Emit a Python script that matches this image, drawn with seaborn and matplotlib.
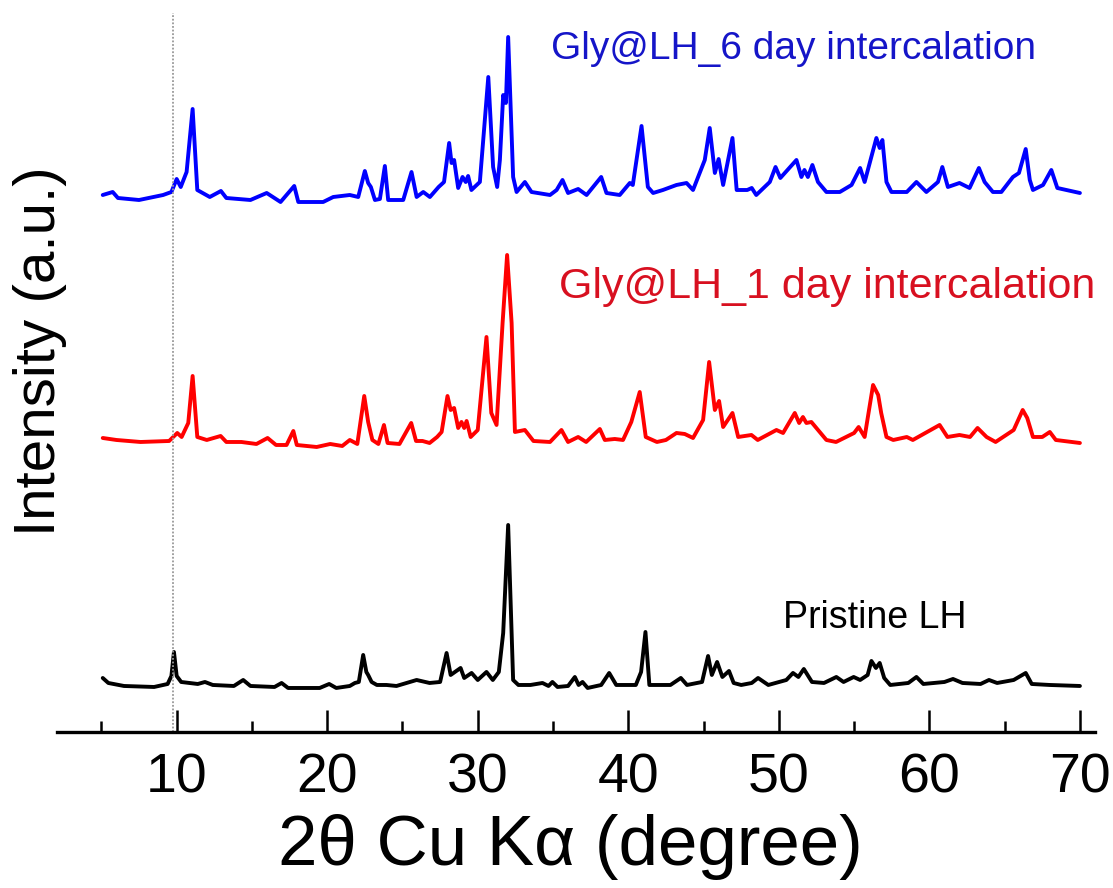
import numpy as np
import pandas as pd
import seaborn as sns
from matplotlib import pyplot as plt
from matplotlib.ticker import MultipleLocator

# 2-theta positions (degree) and stacked intensities (a.u.)
pristine_x = [5.09, 5.46, 6.5, 8.5, 9.4, 9.65, 9.82, 10.0, 10.3, 11.4, 11.88, 12.4,
              13.8, 14.42, 14.9, 16.5, 16.97, 17.4, 19.5, 20.13, 20.6, 21.5, 21.84,
              22.1, 22.39, 22.6, 22.72, 22.95, 23.3, 23.94, 24.6, 25.94, 26.8, 27.5,
              27.93, 28.2, 28.86, 29.1, 29.59, 30.0, 30.58, 31.0, 31.4, 31.69, 32.02,
              32.35, 32.7, 33.5, 34.3, 34.7, 34.96, 35.3, 36.0, 36.45, 36.7, 36.96,
              37.3, 38.2, 38.73, 39.2, 40.5, 40.85, 41.14, 41.4, 42.8, 43.49, 43.9,
              44.9, 45.3, 45.55, 45.9, 46.25, 46.69, 47.0, 47.5, 48.2, 48.62, 49.3,
              50.5, 50.94, 51.3, 51.66, 52.2, 53.0, 53.82, 54.3, 54.97, 55.4, 55.9,
              56.15, 56.45, 56.7, 57.0, 57.4, 58.6, 59.14, 59.6, 61.0, 61.57, 62.2,
              63.4, 63.96, 64.5, 65.6, 66.4, 66.8, 68.0, 70.0]
pristine_y = [54, 49, 46, 45, 48, 56, 80, 56, 50, 48, 50, 47,
              46, 52, 46, 45, 49, 44, 44, 48, 44, 46, 49,
              50, 77, 60, 57, 50, 47, 47, 46, 52, 49, 50,
              79, 57, 64, 54, 59, 52, 60, 52, 60, 99, 207,
              52, 47, 47, 49, 46, 50, 45, 46, 55, 47, 50,
              44, 47, 59, 47, 47, 60, 100, 47, 47, 54, 47,
              50, 76, 57, 70, 55, 61, 49, 47, 49, 54, 47,
              52, 59, 55, 63, 50, 49, 55, 50, 55, 52, 57,
              71, 64, 69, 54, 47, 49, 55, 48, 50, 53, 49,
              48, 52, 49, 52, 59, 48, 47, 46]

day1_x = [5.09, 6.0, 7.6, 9.5, 10.04, 10.33, 10.77, 11.06, 11.37, 12.0, 12.92, 13.3,
          14.3, 15.3, 16.04, 16.6, 17.3, 17.75, 17.98, 19.3, 20.2, 21.0, 21.5, 22.0,
          22.46, 22.72, 23.0, 23.4, 23.77, 24.01, 24.8, 25.58, 25.9, 26.33, 26.8,
          27.3, 27.6, 27.99, 28.2, 28.43, 28.7, 28.92, 29.1, 29.26, 29.53, 30.0,
          30.58, 30.9, 31.25, 31.65, 31.95, 32.25, 32.47, 33.13, 33.7, 34.8, 35.56,
          36.0, 36.67, 37.2, 38.11, 38.44, 39.1, 39.65, 40.2, 40.76, 41.16, 41.9,
          42.5, 43.2, 43.75, 44.3, 44.97, 45.37, 45.75, 46.03, 46.3, 46.92, 47.3,
          48.18, 48.6, 49.84, 50.28, 51.06, 51.35, 51.6, 51.83, 52.16, 53.16, 53.8,
          55.0, 55.3, 55.7, 56.26, 56.6, 56.8, 57.15, 57.6, 58.5, 58.9, 60.68,
          61.2, 62.0, 62.7, 63.2, 63.8, 64.4, 65.6, 66.2, 66.5, 66.88, 67.5, 68.0,
          68.4, 70.0]
day1_y = [294, 292, 290, 291, 299, 295, 309, 356, 295, 292, 296, 290,
          290, 288, 294, 287, 287, 301, 287, 285, 288, 286, 292, 288,
          336, 310, 292, 288, 307, 289, 288, 309, 291, 291, 289,
          295, 300, 336, 322, 324, 304, 310, 304, 311, 295, 302,
          395, 319, 307, 409, 477, 409, 300, 302, 291, 290, 302,
          290, 295, 290, 303, 292, 293, 292, 310, 340, 295, 290,
          292, 299, 298, 294, 312, 370, 322, 331, 305, 319, 295,
          297, 292, 302, 299, 319, 309, 315, 309, 310, 292, 290,
          299, 305, 295, 347, 337, 319, 295, 292, 295, 292, 307,
          295, 297, 295, 304, 295, 290, 302, 322, 314, 295, 295, 300,
          292, 289]

day6_x = [5.09, 5.75, 6.1, 7.5, 9.1, 9.65, 10.0, 10.27, 10.66, 11.06, 11.37, 12.2,
          12.94, 13.3, 14.9, 15.98, 16.9, 17.81, 18.08, 19.73, 20.4, 21.5, 22.06,
          22.5, 22.72, 22.9, 23.17, 23.5, 23.83, 24.05, 25.05, 25.6, 25.94, 26.38,
          26.82, 27.4, 27.76, 28.1, 28.26, 28.43, 28.7, 28.99, 29.2, 29.36, 29.58,
          30.14, 30.7, 31.02, 31.29, 31.47, 31.69, 31.87, 32.02, 32.35, 32.58,
          33.13, 33.57, 34.8, 35.24, 35.63, 36.0, 36.67, 37.23, 38.2, 38.55, 39.43,
          40.1, 40.3, 40.88, 41.3, 41.65, 42.3, 43.2, 43.87, 44.3, 45.08, 45.41,
          45.75, 46.0, 46.3, 46.92, 47.2, 47.9, 48.2, 48.5, 49.4, 49.78, 50.1,
          51.17, 51.5, 51.7, 51.93, 52.23, 52.6, 53.16, 54.05, 54.83, 55.4, 55.7,
          56.48, 56.7, 56.88, 57.15, 57.48, 58.5, 59.14, 59.8, 60.57, 60.86, 61.23,
          62.0, 62.67, 63.29, 63.67, 64.22, 64.78, 65.55, 65.95, 66.4, 66.67,
          66.88, 67.55, 68.1, 68.5, 70.0]
day6_y = [537, 540, 534, 532, 537, 540, 553, 545, 560, 623, 542, 535,
          541, 534, 532, 539, 530, 546, 530, 530, 535, 537, 535,
          561, 549, 545, 532, 533, 566, 532, 532, 560, 535, 540,
          535, 545, 550, 589, 569, 572, 544, 555, 550, 556, 542,
          550, 655, 565, 545, 572, 637, 629, 695, 555, 540,
          550, 540, 537, 542, 552, 539, 543, 537, 555, 539, 537,
          549, 547, 606, 545, 539, 542, 547, 549, 542, 572, 604,
          559, 573, 547, 594, 542, 542, 544, 537, 550, 565, 554,
          572, 555, 562, 555, 567, 550, 540, 540, 547, 564, 550,
          594, 584, 592, 550, 540, 540, 550, 540, 550, 565, 545,
          549, 544, 564, 550, 540, 540, 555, 559, 583, 552,
          542, 547, 562, 544, 539]

labels = ["Pristine LH", "Gly@LH_1 day intercalation", "Gly@LH_6 day intercalation"]
ref_line = 9.77

sns.set_style("white")
plt.rcParams['font.family'] = ['Liberation Sans', 'DejaVu Sans']
plt.rcParams['text.color'] = 'black'
plt.rcParams['axes.labelcolor'] = 'black'
plt.rcParams['xtick.color'] = 'black'

fig = plt.figure(figsize=(11.13, 8.88), dpi=100)
ax = fig.add_axes([0.0512, 0.1757, 0.9326, 0.8243])

for xs, ys, c in [(pristine_x, pristine_y, 'black'),
                  (day1_x, day1_y, '#ff0000'),
                  (day6_x, day6_y, '#0000ff')]:
    sns.lineplot(x=xs, y=ys, ax=ax, color=c, lw=2.8, estimator=None, sort=False)

ax.plot([ref_line, ref_line], [0, 719], color='#999999', lw=1.3, ls=(0, (1, 1)))

ax.set_xlim(2.05, 71.0)
ax.set_ylim(0, 732)
for s in ['left', 'right', 'top']:
    ax.spines[s].set_visible(False)
ax.spines['bottom'].set_linewidth(2.4)
ax.spines['bottom'].set_color('black')
ax.set_yticks([])
ax.xaxis.set_major_locator(MultipleLocator(10))
ax.xaxis.set_minor_locator(MultipleLocator(5))
ax.set_xticks(range(10, 71, 10))
ax.tick_params(axis='x', which='major', direction='in', length=16, width=1.8,
               labelsize=40, pad=15, color='black', labelcolor='black', bottom=True)
ax.tick_params(axis='x', which='minor', direction='in', length=8, width=1.8,
               color='black', bottom=True)

ax.set_xlabel("2θ Cu Kα (degree)", fontsize=51)
ax.xaxis.set_label_coords(0.495, -0.112)
fig.text(0.036, 0.604, "Intensity (a.u.)", rotation=90, fontsize=42,
         ha='center', va='center')

ax.text(50.96, 683, labels[2], color='#1515c8', fontsize=28, ha='center', va='center')
ax.text(53.2, 445, labels[1], color='#d81020', fontsize=31, ha='center', va='center')
ax.text(56.4, 114, labels[0], color='black', fontsize=27, ha='center', va='center')

fig.savefig("out.png", dpi=100)
